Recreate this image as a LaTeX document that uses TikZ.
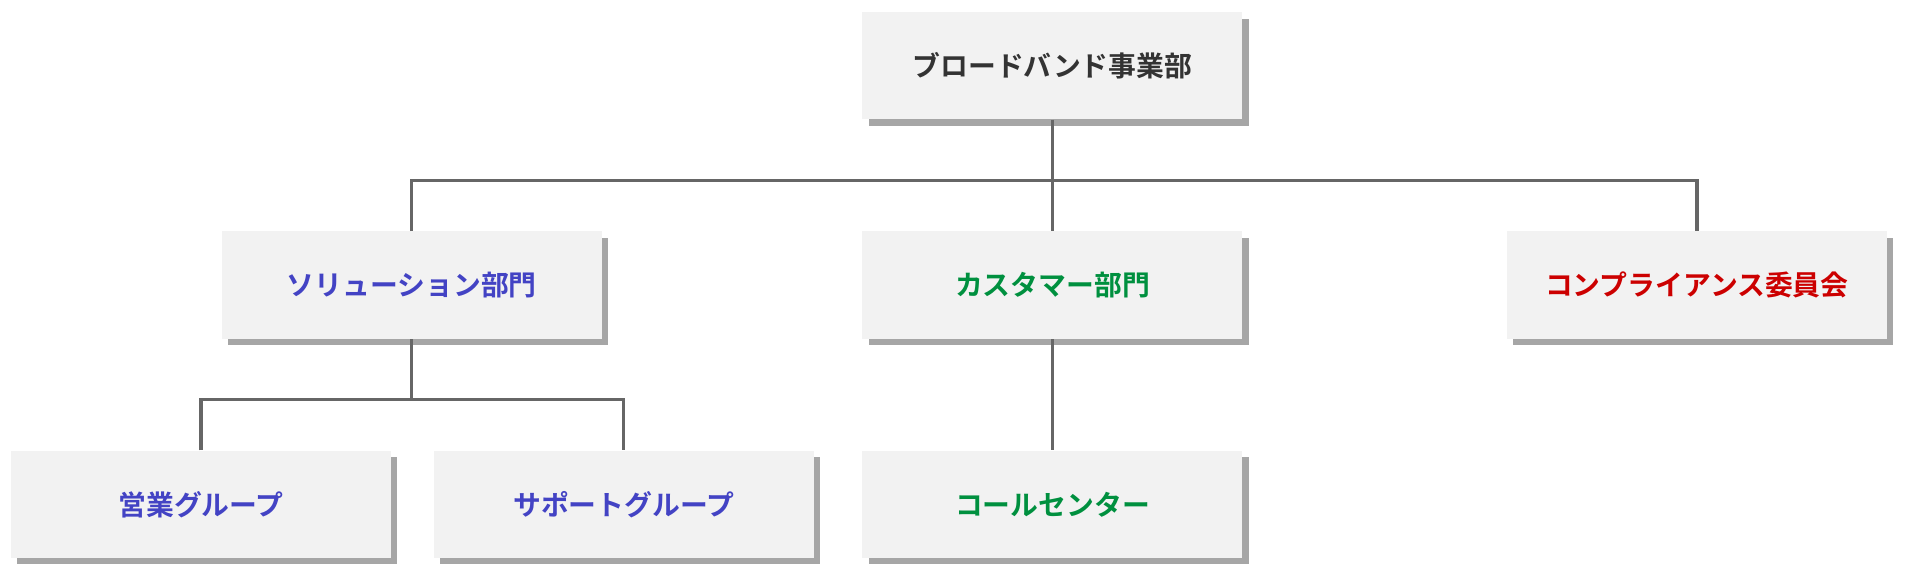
\documentclass[tikz,border=0pt]{standalone}
\usepackage{fontspec}
\setmainfont{Noto Sans CJK JP}[BoldFont={Noto Sans CJK JP Bold}]
\usetikzlibrary{shadows}
\definecolor{boxgray}{HTML}{F2F2F2}
\definecolor{linegray}{HTML}{666666}
\definecolor{headdark}{HTML}{333333}
\definecolor{solblue}{HTML}{4343C4}
\definecolor{custgreen}{HTML}{00903F}
\definecolor{compred}{HTML}{CC0000}
\tikzset{
  unit/.style={fill=boxgray, minimum width=6.24cm, minimum height=1.76cm,
    font=\bfseries\fontsize{13}{15}\selectfont,
    drop shadow={shadow xshift=3pt, shadow yshift=-3pt, opacity=.35, fill=black}},
  link/.style={draw=linegray, line width=1.6pt},
}
\begin{document}
\begin{tikzpicture}[x=0.02cm, y=-0.02cm]
  \useasboundingbox (0,0) rectangle (1568,477);
  % boxes
  \node[unit, text=headdark] (hq) at (864,54) {ブロードバンド事業部};
  \node[unit, text=solblue] (sol) at (338,234) {ソリューション部門};
  \node[unit, text=custgreen] (cust) at (864,234) {カスタマー部門};
  \node[unit, text=compred] (comp) at (1393,234) {コンプライアンス委員会};
  \node[unit, text=solblue] (sales) at (165,414) {営業グループ};
  \node[unit, text=solblue] (support) at (512,414) {サポートグループ};
  \node[unit, text=custgreen] (call) at (864,414) {コールセンター};
  % connectors
  \coordinate (bar1) at (864,148);
  \coordinate (bar2) at (338,328);
  \draw[link] (hq) -- (bar1);
  \draw[link] (sol.north) |- (bar1) -| (comp.north);
  \draw[link] (bar1) -- (cust);
  \draw[link] (sol) -- (bar2);
  \draw[link] (sales.north) |- (bar2) -| (support.north);
  \draw[link] (cust) -- (call);
\end{tikzpicture}
\end{document}
